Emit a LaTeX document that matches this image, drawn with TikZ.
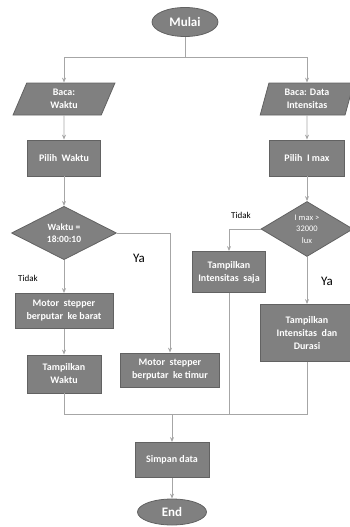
\documentclass[tikz,border=0pt]{standalone}
\usepackage{fontspec}
\setmainfont{Carlito}
\usetikzlibrary{positioning,arrows.meta,shapes.geometric}
\definecolor{cFill}{RGB}{128,128,128}
\definecolor{cEdge}{RGB}{98,98,98}
\definecolor{cLine}{RGB}{166,166,166}
\tikzset{
  proses/.style={
    rectangle, draw=cEdge, fill=cFill, line width=0.8pt,
    align=center, text=white, inner sep=1pt,
    font=\fontsize{10}{13}\selectfont\bfseries,
  },
  terminal/.style={
    ellipse, draw=cEdge, fill=cFill, line width=0.8pt,
    text=white, inner sep=1pt,
    font=\fontsize{13}{15}\selectfont\bfseries,
  },
  masukan/.style={
    trapezium, trapezium left angle=76, trapezium right angle=104,
    trapezium stretches=true, draw=cEdge, fill=cFill, line width=0.8pt,
    align=center, text=white, inner sep=1pt,
    font=\fontsize{10}{13}\selectfont\bfseries,
  },
  keputusan/.style={
    diamond, draw=cEdge, fill=cFill, line width=0.8pt,
    align=center, text=white, inner sep=0pt,
    font=\fontsize{9.5}{12.5}\selectfont\bfseries,
  },
  ket/.style={font=\fontsize{9}{11}\selectfont, text=black},
  arr/.style={-{Stealth[length=5pt,width=4pt]}, draw=cLine, line width=0.9pt},
  garis/.style={draw=cLine, line width=0.9pt},
}

\begin{document}
\begin{tikzpicture}[x=1pt,y=-1pt]
\useasboundingbox (0,0) rectangle (350,527);

\node[terminal, minimum width=66pt, minimum height=29pt] (mulai) at (185,22) {Mulai};

\node[masukan, minimum width=102pt, minimum height=32pt] (bacaWaktu) at (64,99)
  {Baca:\\ Waktu};
\node[masukan, minimum width=94pt, minimum height=32pt] (bacaInt) at (307,99)
  {Baca: Data\\ Intensitas};

\node[proses, minimum width=73pt, minimum height=36pt] (pilihWaktu) at (64,158)
  {Pilih~~Waktu};
\node[proses, minimum width=75pt, minimum height=36pt] (pilihImax) at (307,158)
  {Pilih~~I max};

\node[keputusan, minimum width=105pt, minimum height=53pt] (cekWaktu) at (64,233)
  {Waktu =\\ 18:00:10};
\node[keputusan, minimum width=92pt, minimum height=55pt,
  font=\fontsize{8.5}{11.5}\selectfont] (cekImax) at (307,229)
  {I max >\\ 32000\\ lux};

\node[proses, minimum width=98pt, minimum height=35pt] (motorBarat) at (64,311)
  {Motor~~stepper\\ berputar~~ke barat};
\node[proses, minimum width=74pt, minimum height=38pt] (tampilWaktu) at (64,374)
  {Tampilkan\\ Waktu};
\node[proses, minimum width=99pt, minimum height=34pt] (motorTimur) at (170,370)
  {Motor~~stepper\\ berputar~~ke timur};

\node[proses, minimum width=73pt, minimum height=41pt] (tampilSaja) at (229,272)
  {Tampilkan\\ Intensitas~~saja};
\node[proses, minimum width=94pt, minimum height=57pt] (tampilDurasi) at (307,333)
  {Tampilkan\\ Intensitas~~dan\\ Durasi};

\node[proses, minimum width=74pt, minimum height=35pt] (simpan) at (172,460)
  {Simpan data};
\node[terminal, minimum width=69pt, minimum height=26pt] (selesai) at (172,512) {End};

% cabang dan pertemuan
\coordinate (cabang) at (185,57);
\coordinate (kumpul) at (172,414);

\node[ket] (tidakKiri) at (28,278) {Tidak};
\node[ket, font=\fontsize{13}{15}\selectfont] (yaKiri) at (139,258) {Ya};
\node[ket] (tidakKanan) at (241,215) {Tidak};
\node[ket, font=\fontsize{13}{15}\selectfont] (yaKanan) at (327,281) {Ya};

\draw[garis] (mulai) -- (cabang);
\draw[arr] (cabang) -| (bacaWaktu.north);
\draw[arr] (cabang) -| (bacaInt.north);

\draw[arr] (bacaWaktu) -- (pilihWaktu);
\draw[arr] (pilihWaktu) -- (cekWaktu);
\draw[arr] (cekWaktu) -- (motorBarat);
\draw[arr] (motorBarat) -- (tampilWaktu);
\draw[arr] (cekWaktu.east) -| (motorTimur.north);

\draw[arr] (bacaInt) -- (pilihImax);
\draw[arr] (pilihImax) -- (cekImax);
\draw[arr] (cekImax.west) -| (tampilSaja.north);
\draw[arr] (cekImax) -- (tampilDurasi);

\draw[garis] (tampilWaktu.south) |- (kumpul);
\draw[garis] (tampilDurasi.south) |- (kumpul);
\draw[garis] (tampilSaja.south) -- (tampilSaja.south |- kumpul);

\draw[arr] (kumpul) -- (simpan);
\draw[arr] (simpan) -- (selesai);

\end{tikzpicture}
\end{document}
